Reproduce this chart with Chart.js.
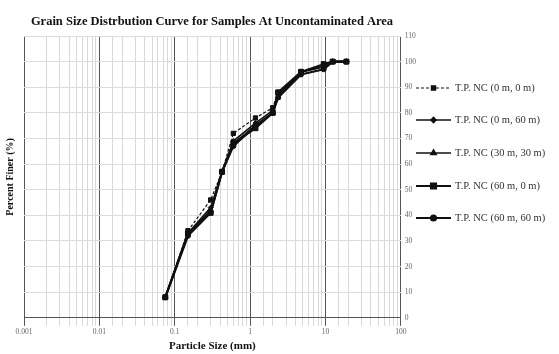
<!DOCTYPE html>
<html>
<head>
<meta charset="utf-8">
<script src="https://cdn.jsdelivr.net/npm/chart.js@4/dist/chart.umd.min.js"></script>
<style>
  html, body { margin: 0; padding: 0; background: #fff; }
  #wrap { width: 559px; height: 354px; }
</style>
</head>
<body>
<div id="wrap"><canvas id="grain"></canvas></div>
<script>
// sieve openings (mm) and percent finer for each sample
const sieveSizes = [0.075, 0.15, 0.3, 0.425, 0.6, 1.18, 2.0, 2.36, 4.75, 9.5, 12.5, 19];
const finer_0_0   = [8, 34, 46, 57, 72, 78, 82, 88, 96, 99, 100, 100];
const finer_0_60  = [8, 33, 43, 57, 69, 76, 81, 87, 96, 98, 100, 100];
const finer_30_30 = [8, 33, 42, 57, 68, 75, 80, 86, 96, 98, 100, 100];
const finer_60_0  = [8, 33, 41, 57, 68, 74, 80, 88, 96, 99, 100, 100];
const finer_60_60 = [8, 32, 41, 57, 67, 75, 80, 86, 95, 97, 100, 100];
const seriesNames = ['T.P. NC (0 m, 0 m)', 'T.P. NC (0 m, 60 m)', 'T.P. NC (30 m, 30 m)', 'T.P. NC (60 m, 0 m)', 'T.P. NC (60 m, 60 m)'];
const xTickLabels = [0.001, 0.01, 0.1, 1, 10, 100];

function toPoints(values) {
  return sieveSizes.map((s, i) => ({ x: s, y: values[i] }));
}

const styles = [
  { pointStyle: 'rect', pointRadius: 3, borderWidth: 1.2, borderDash: [3, 2] },
  { pointStyle: 'rectRot', pointRadius: 2.5, borderWidth: 1.6, borderDash: [] },
  { pointStyle: 'triangle', pointRadius: 3, borderWidth: 1.6, borderDash: [] },
  { pointStyle: 'rect', pointRadius: 3.5, borderWidth: 2.2, borderDash: [] },
  { pointStyle: 'circle', pointRadius: 2.5, borderWidth: 2.2, borderDash: [] }
];

const allValues = [finer_0_0, finer_0_60, finer_30_30, finer_60_0, finer_60_60];
const datasets = allValues.map((vals, i) => ({
  label: seriesNames[i],
  data: toPoints(vals),
  borderColor: '#111',
  backgroundColor: '#111',
  borderWidth: styles[i].borderWidth,
  borderDash: styles[i].borderDash,
  pointStyle: styles[i].pointStyle,
  pointRadius: styles[i].pointRadius,
  pointBorderWidth: 1,
  tension: 0
}));

// legend drawn at the right, line with marker in the middle
const sideLegend = {
  id: 'sideLegend',
  afterDraw(chart) {
    const ctx = chart.ctx;
    const x0 = 416, x1 = 451;
    const ys = [88, 120, 153, 186, 218];
    chart.data.datasets.forEach((ds, i) => {
      const y = ys[i];
      ctx.save();
      ctx.strokeStyle = '#111';
      ctx.fillStyle = '#111';
      ctx.lineWidth = ds.borderWidth;
      ctx.setLineDash(ds.borderDash);
      ctx.beginPath();
      ctx.moveTo(x0, y);
      ctx.lineTo(x1, y);
      ctx.stroke();
      ctx.setLineDash([]);
      Chart.helpers.drawPoint(ctx, {
        pointStyle: ds.pointStyle,
        radius: ds.pointRadius,
        rotation: 0,
        borderWidth: 1
      }, (x0 + x1) / 2, y);
      ctx.fillStyle = '#333';
      ctx.font = '10.5px "Liberation Serif"';
      ctx.textBaseline = 'middle';
      ctx.fillText(ds.label, 455, y);
      ctx.restore();
    });
  }
};

const serif = '"Liberation Serif", "DejaVu Serif", serif';

new Chart(document.getElementById('grain'), {
  type: 'line',
  data: { datasets: datasets },
  plugins: [sideLegend],
  options: {
    responsive: true,
    maintainAspectRatio: false,
    animation: false,
    layout: { padding: { left: 4, right: 139, top: 10, bottom: 0 } },
    plugins: {
      legend: { display: false },
      tooltip: { enabled: false },
      title: {
        display: true,
        text: 'Grain Size Distrbution Curve for Samples At Uncontaminated Area',
        color: '#111',
        font: { family: serif, size: 12.5, weight: 'bold' },
        padding: { top: 4, bottom: 7 }
      }
    },
    scales: {
      x: {
        type: 'logarithmic',
        min: 0.001,
        max: 100,
        grid: {
          color: (c) => (c.tick && c.tick.major) ? '#555' : '#d8d8d8'
        },
        border: { color: '#555' },
        ticks: {
          autoSkip: false,
          maxRotation: 0,
          padding: 2,
          major: { enabled: true },
          color: '#666',
          font: { family: serif, size: 7.5 },
          callback: (v) => xTickLabels.includes(v) ? String(v) : ''
        },
        title: {
          display: true,
          text: 'Particle Size (mm)',
          color: '#111',
          font: { family: serif, size: 11, weight: 'bold' },
          padding: { top: 1, bottom: 1 }
        }
      },
      y: {
        position: 'right',
        min: 0,
        max: 110,
        grid: { color: '#dcdcdc', drawTicks: false },
        border: { display: false },
        ticks: {
          stepSize: 10,
          color: '#666',
          padding: 4,
          font: { family: serif, size: 7.5 }
        }
      },
      yTitle: {
        position: 'left',
        min: 0,
        max: 110,
        grid: { display: false },
        border: { display: false },
        ticks: { display: false },
        title: {
          display: true,
          text: 'Percent Finer (%)',
          color: '#111',
          font: { family: serif, size: 10, weight: 'bold' },
          padding: { top: 0, bottom: 0 }
        }
      }
    }
  }
});
</script>
</body>
</html>
